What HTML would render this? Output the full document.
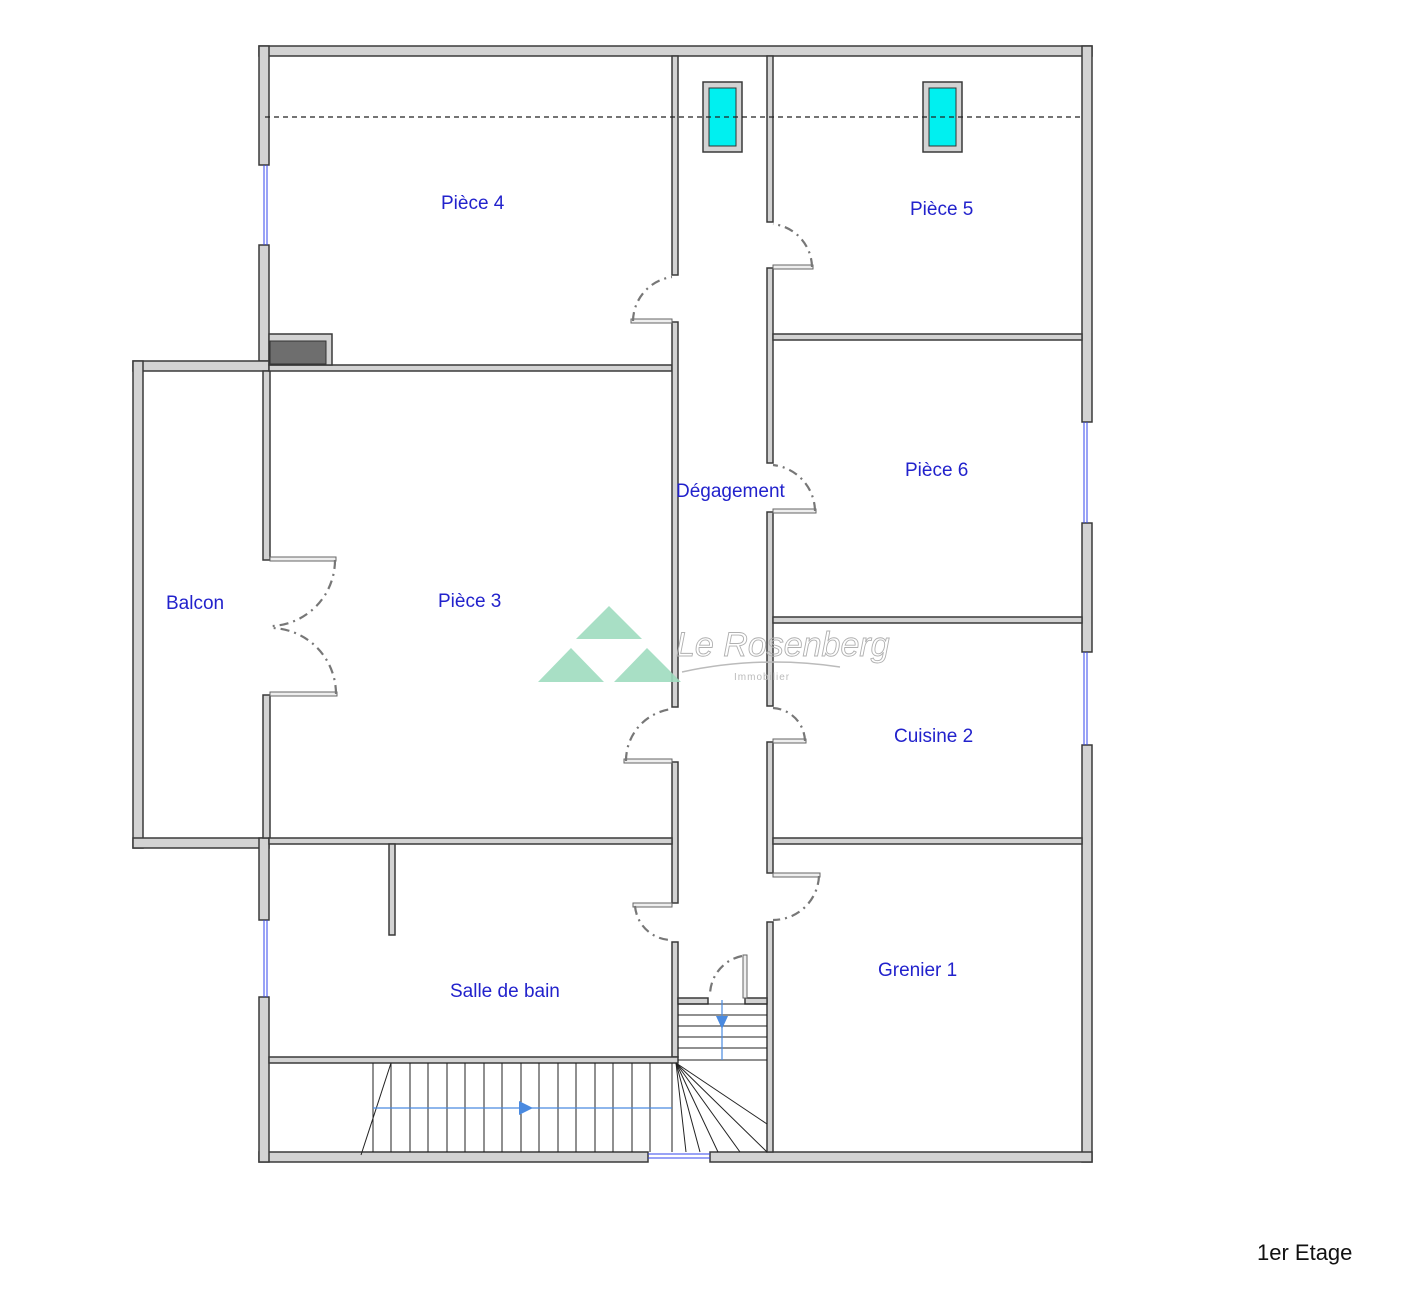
<!DOCTYPE html>
<html><head><meta charset="utf-8"><style>
html,body{margin:0;padding:0;background:#fff;}
svg{display:block;}
text{font-family:"Liberation Sans","DejaVu Sans",sans-serif;}
</style></head><body>
<svg width="1416" height="1290" viewBox="0 0 1416 1290" xmlns="http://www.w3.org/2000/svg">
<g fill="#d3d3d3" stroke="#3a3a3a" stroke-width="1.5">
<rect x="259" y="46" width="833" height="10"/>
<rect x="1082" y="46" width="10" height="376"/>
<rect x="1082" y="523" width="10" height="129"/>
<rect x="1082" y="745" width="10" height="417"/>
<rect x="259" y="1152" width="389" height="10"/>
<rect x="710" y="1152" width="382" height="10"/>
<rect x="259" y="46" width="10" height="119"/>
<rect x="259" y="245" width="10" height="116"/>
<rect x="133" y="361" width="136" height="10"/>
<rect x="133" y="361" width="10" height="487"/>
<rect x="133" y="838" width="136" height="10"/>
<rect x="259" y="838" width="10" height="82"/>
<rect x="259" y="997" width="10" height="165"/>
<rect x="263" y="371" width="7" height="189"/>
<rect x="263" y="695" width="7" height="143"/>
<rect x="269" y="365" width="403" height="6"/>
<rect x="269" y="334" width="63" height="31"/>
<rect x="672" y="56" width="6" height="219"/>
<rect x="672" y="322" width="6" height="385"/>
<rect x="672" y="762" width="6" height="141"/>
<rect x="672" y="942" width="6" height="115"/>
<rect x="767" y="56" width="6" height="166"/>
<rect x="767" y="268" width="6" height="195"/>
<rect x="767" y="512" width="6" height="194"/>
<rect x="767" y="742" width="6" height="131"/>
<rect x="767" y="922" width="6" height="230"/>
<rect x="773" y="334" width="309" height="6"/>
<rect x="773" y="617" width="309" height="6"/>
<rect x="773" y="838" width="309" height="6"/>
<rect x="269" y="838" width="403" height="6"/>
<rect x="389" y="844" width="6" height="91"/>
<rect x="269" y="1057" width="409" height="6"/>
<rect x="678" y="998" width="30" height="6"/>
<rect x="745" y="998" width="22" height="6"/>
<rect x="703" y="82" width="39" height="70"/>
<rect x="923" y="82" width="39" height="70"/>
</g>
<rect x="270" y="341" width="56" height="23" fill="#6e6e6e" stroke="#333"/>
<rect x="709" y="88" width="27" height="58" fill="#00f0f0" stroke="#333"/>
<rect x="929" y="88" width="27" height="58" fill="#00f0f0" stroke="#333"/>
<g stroke="#3344ee" stroke-width="1" fill="none">
<line x1="264" y1="165" x2="264" y2="245"/><line x1="267" y1="165" x2="267" y2="245"/>
<line x1="264" y1="920" x2="264" y2="997"/><line x1="267" y1="920" x2="267" y2="997"/>
<line x1="1084" y1="422" x2="1084" y2="523"/><line x1="1087" y1="422" x2="1087" y2="523"/>
<line x1="1084" y1="652" x2="1084" y2="745"/><line x1="1087" y1="652" x2="1087" y2="745"/>
<line x1="648" y1="1154" x2="710" y2="1154"/><line x1="648" y1="1158" x2="710" y2="1158"/>
</g>
<line x1="265" y1="117" x2="1082" y2="117" stroke="#222" stroke-width="1.2" stroke-dasharray="5,4"/>
<g fill="#eee" stroke="#666" stroke-width="1">
<rect x="631" y="319" width="41" height="4"/>
<rect x="773" y="265" width="40" height="4"/>
<rect x="773" y="509" width="43" height="4"/>
<rect x="624" y="759" width="48" height="4"/>
<rect x="773" y="739" width="33" height="4"/>
<rect x="633" y="903" width="39" height="4"/>
<rect x="773" y="873" width="47" height="4"/>
<rect x="270" y="557" width="66" height="4"/>
<rect x="270" y="692" width="67" height="4"/>
<rect x="743" y="955" width="4" height="43"/>
</g>
<g fill="none" stroke="#777" stroke-width="2.2" stroke-dasharray="9,5,2,5">
<path d="M633,321 A45,45 0 0 1 672,277"/>
<path d="M812,267 A44,44 0 0 0 773,224"/>
<path d="M815,511 A47,47 0 0 0 773,465"/>
<path d="M626,761 A52,52 0 0 1 672,709"/>
<path d="M805,741 A34,34 0 0 0 773,708"/>
<path d="M635,906 A37,37 0 0 0 672,940"/>
<path d="M819,876 A46,46 0 0 1 773,920"/>
<path d="M335,560 A66,66 0 0 1 272,626"/>
<path d="M336,694 A66,66 0 0 0 272,628"/>
<path d="M742,956 A40,40 0 0 0 710,996"/>
</g>
<g stroke="#222" stroke-width="1">
<line x1="678" y1="1004" x2="767" y2="1004"/>
<line x1="678" y1="1015" x2="767" y2="1015"/>
<line x1="678" y1="1026" x2="767" y2="1026"/>
<line x1="678" y1="1037" x2="767" y2="1037"/>
<line x1="678" y1="1048" x2="767" y2="1048"/>
<line x1="678" y1="1060" x2="767" y2="1060"/>
<line x1="373" y1="1063" x2="373" y2="1152"/>
<line x1="391" y1="1063" x2="391" y2="1152"/>
<line x1="410" y1="1063" x2="410" y2="1152"/>
<line x1="428" y1="1063" x2="428" y2="1152"/>
<line x1="447" y1="1063" x2="447" y2="1152"/>
<line x1="465" y1="1063" x2="465" y2="1152"/>
<line x1="484" y1="1063" x2="484" y2="1152"/>
<line x1="502" y1="1063" x2="502" y2="1152"/>
<line x1="521" y1="1063" x2="521" y2="1152"/>
<line x1="539" y1="1063" x2="539" y2="1152"/>
<line x1="558" y1="1063" x2="558" y2="1152"/>
<line x1="576" y1="1063" x2="576" y2="1152"/>
<line x1="595" y1="1063" x2="595" y2="1152"/>
<line x1="613" y1="1063" x2="613" y2="1152"/>
<line x1="632" y1="1063" x2="632" y2="1152"/>
<line x1="650" y1="1063" x2="650" y2="1152"/>
<line x1="672" y1="1063" x2="672" y2="1152"/>
<line x1="391" y1="1063" x2="361" y2="1155"/>
<line x1="676" y1="1063" x2="686" y2="1152"/>
<line x1="676" y1="1063" x2="700" y2="1152"/>
<line x1="676" y1="1063" x2="718" y2="1152"/>
<line x1="676" y1="1063" x2="740" y2="1152"/>
<line x1="676" y1="1063" x2="767" y2="1152"/>
<line x1="676" y1="1063" x2="767" y2="1124"/>
</g>
<g stroke="#4a8ae0" stroke-width="1.2" fill="#4a8ae0">
<line x1="373" y1="1108" x2="672" y2="1108"/>
<polygon points="519,1101 533,1108 519,1115" stroke="none"/>
<line x1="722" y1="1000" x2="722" y2="1060"/>
<polygon points="716,1016 728,1016 722,1029" stroke="none"/>
</g>
<g fill="#9fdcbf" opacity="0.9">
<polygon points="609,606 642,639 576,639"/>
<polygon points="571,648 604,682 538,682"/>
<polygon points="647,648 681,682 614,682"/>
</g>
<text x="676" y="656" font-family="Liberation Serif,serif" font-style="italic" font-size="34" fill="none" stroke="#b0b0b0" stroke-width="0.9">Le Rosenberg</text>
<path d="M682,672 Q760,655 840,667" fill="none" stroke="#bbb" stroke-width="1.5"/>
<text x="734" y="680" font-size="10" fill="#bbb" letter-spacing="1">Immobilier</text>
<g fill="#2222cc" font-size="19">
<text x="441" y="209">Pièce 4</text>
<text x="910" y="215">Pièce 5</text>
<text x="676" y="497">Dégagement</text>
<text x="905" y="476">Pièce 6</text>
<text x="166" y="609">Balcon</text>
<text x="438" y="607">Pièce 3</text>
<text x="894" y="742">Cuisine 2</text>
<text x="878" y="976">Grenier 1</text>
<text x="450" y="997">Salle de bain</text>
</g>
<text x="1257" y="1260" font-size="22" fill="#111">1er Etage</text>
</svg>
</body></html>
